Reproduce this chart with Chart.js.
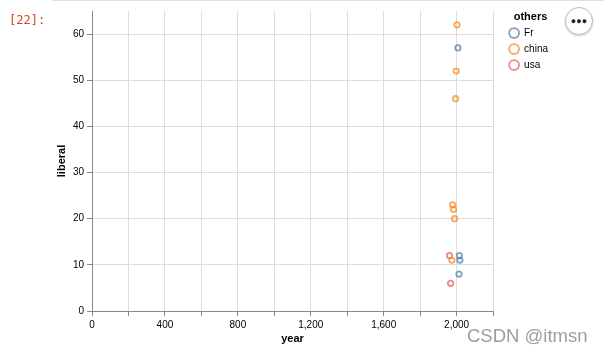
<!DOCTYPE html>
<html>
<head>
<meta charset="utf-8">
<script src="https://cdn.jsdelivr.net/npm/chart.js@4.4.1/dist/chart.umd.min.js"></script>
<style>
  html, body { margin: 0; padding: 0; background: #fff; }
  #wrap { position: relative; width: 604px; height: 353px; overflow: hidden; }
  #c { position: absolute; left: 0; top: 0; }
  .cellTop { position: absolute; left: 52px; top: 0; width: 552px; height: 1px; background: #e0e0e0; }
  .prompt { position: absolute; left: 9px; top: 13px; font: 12px "DejaVu Sans Mono", monospace; color: #d84315; }
  .more { position: absolute; left: 565px; top: 7px; width: 26px; height: 26px; border-radius: 50%;
          background: #fff; border: 1px solid #bbb; box-shadow: 0 1px 2px rgba(0,0,0,.2);
          font: bold 9px "Liberation Sans", sans-serif; color: #222; text-align: center; line-height: 26px; }
  .mark { position: absolute; left: 467px; top: 325px; font: 18.5px "Liberation Sans", Arial, sans-serif; color: rgba(140,140,140,.85); }
</style>
</head>
<body>
<div id="wrap">
  <canvas id="c" width="604" height="353"></canvas>
  <div class="cellTop"></div>
  <div class="prompt">[22]:</div>
  <div class="more">&#9679;&#9679;&#9679;</div>
  <div class="mark">CSDN @itmsn</div>
</div>
<script>
const seriesNames = ['Fr', 'china', 'usa'];
const seriesColors = ['rgba(76,120,168,0.7)', 'rgba(245,133,24,0.7)', 'rgba(228,87,86,0.7)'];

const frYear = [2007, 2015, 2018, 2013];
const frLiberal = [57, 12, 11, 8];
const chinaYear = [2002, 1998, 1994, 1978, 1983, 1989, 1974];
const chinaLiberal = [62, 52, 46, 23, 22, 20, 11];
const usaYear = [1961, 1967];
const usaLiberal = [12, 6];

const xMin = 0, xMax = 2200, xStep = 200, xLabelEvery = 400;
const yMin = 0, yMax = 65, yStep = 10;

const FONT = '"Liberation Sans", Arial, Helvetica, sans-serif';

function toPoints(xs, ys) {
  return xs.map((x, i) => ({ x, y: ys[i] }));
}

const allX = [frYear, chinaYear, usaYear];
const allY = [frLiberal, chinaLiberal, usaLiberal];

const datasets = seriesNames.map((name, i) => ({
  label: name,
  data: toPoints(allX[i], allY[i]),
  backgroundColor: 'rgba(0,0,0,0)',
  borderColor: seriesColors[i],
  borderWidth: 1.8,
  pointRadius: 2.7,
  pointHoverRadius: 2.7,
  pointStyle: 'circle'
}));

// push the legend a bit away from the plot, like vega does
const legendGap = {
  id: 'legendGap',
  afterLayout(chart) {
    chart.legend.left += 10;
    chart.legend.right += 10;
  }
};

new Chart(document.getElementById('c').getContext('2d'), {
  type: 'scatter',
  data: { datasets },
  plugins: [legendGap],
  options: {
    responsive: false,
    animation: false,
    events: [],
    layout: { padding: { left: 51, top: 11, right: 56, bottom: 4 } },
    plugins: {
      tooltip: { enabled: false },
      legend: {
        position: 'right',
        align: 'start',
        title: { display: true, text: 'others', color: '#000', font: { family: FONT, size: 11, weight: 'bold', lineHeight: 1 }, padding: { top: 0, bottom: 0 } },
        labels: {
          usePointStyle: true,
          boxHeight: 7,
          padding: 6,
          color: '#000',
          font: { family: FONT, size: 10 }
        }
      }
    },
    scales: {
      x: {
        type: 'linear',
        min: xMin, max: xMax,
        afterFit: s => { s.height = 38; },
        ticks: {
          stepSize: xStep,
          autoSkip: false,
          maxRotation: 0,
          padding: 3,
          color: '#000',
          font: { family: FONT, size: 10 },
          callback: v => (v % xLabelEvery === 0 ? v.toLocaleString('en-US') : '')
        },
        grid: { color: '#ddd', tickColor: '#888', tickLength: 5 },
        border: { color: '#888' },
        title: { display: true, text: 'year', color: '#000', font: { family: FONT, size: 11, weight: 'bold' }, padding: { top: 4, bottom: 3 } }
      },
      y: {
        type: 'linear',
        min: yMin, max: yMax,
        afterFit: s => { s.width = 41; },
        ticks: {
          stepSize: yStep,
          includeBounds: false,
          padding: 3,
          color: '#000',
          font: { family: FONT, size: 10 }
        },
        grid: { color: '#ddd', tickColor: '#888', tickLength: 5 },
        border: { color: '#888' },
        title: { display: true, text: 'liberal', color: '#000', font: { family: FONT, size: 11, weight: 'bold' }, padding: { top: 4, bottom: 4 } }
      }
    }
  }
});
</script>
</body>
</html>
